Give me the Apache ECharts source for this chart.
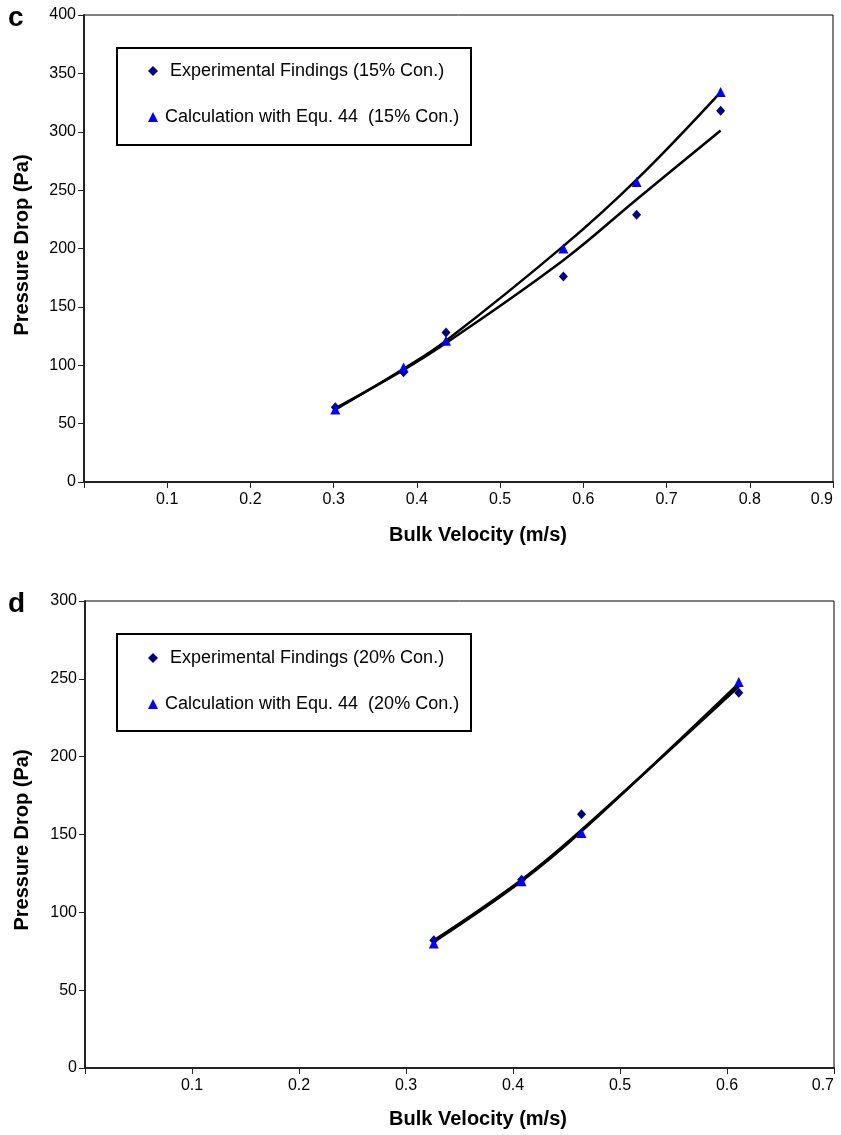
<!DOCTYPE html>
<html>
<head>
<meta charset="utf-8">
<script src="https://cdn.jsdelivr.net/npm/echarts@6/dist/echarts.min.js"></script>
<style>
html,body{margin:0;padding:0;background:#fff;}
#main{width:841px;height:1135px;}
</style>
</head>
<body>
<div id="main"></div>
<script>
// ---- Panel c (15% concentration) ----
var vel15 = [0.302, 0.384, 0.435, 0.576, 0.664, 0.765];
var exp15 = [64, 94, 128, 176, 229, 318];
var calc15 = [62, 98, 121, 200, 257, 334];
var trendExp15 = [63, 96, 119, 190, 242, 301];
var trendCalc15 = [62, 97, 121, 202, 259, 334];

// ---- Panel d (20% concentration) ----
var vel20 = [0.326, 0.408, 0.464, 0.611];
var exp20 = [82, 121, 163, 241];
var calc20 = [80, 120, 151, 248];
var trendExp20 = [82, 121, 153, 245];
var trendCalc20 = [81, 120, 152, 247];

var xTicks15 = ['0.1','0.2','0.3','0.4','0.5','0.6','0.7','0.8','0.9'];
var xTicks20 = ['0.1','0.2','0.3','0.4','0.5','0.6','0.7'];

var names = {
  exp15: 'Experimental Findings (15% Con.)',
  calc15: 'Calculation with Equ. 44  (15% Con.)',
  exp20: 'Experimental Findings (20% Con.)',
  calc20: 'Calculation with Equ. 44  (20% Con.)'
};

function pairs(xs, ys){ return xs.map(function(x,i){ return [x, ys[i]]; }); }

var FONT = "'Liberation Sans', Arial, sans-serif";
var DIAMOND = '#000080';
var TRI = '#0000FF';

function xAxisCfg(gridIndex, max){
  return {
    type:'value', gridIndex:gridIndex, min:0, max:max, interval:0.1,
    axisLine:{show:true, onZero:false, lineStyle:{color:'#222', width:2}},
    axisTick:{show:true, length:6, lineStyle:{color:'#222', width:1}},
    splitLine:{show:false},
    axisLabel:{
      color:'#000', fontSize:16, fontFamily:FONT, margin:10, showMaxLabel:true, alignMaxLabel:'right',
      formatter:function(v){
        var s = Math.round(v*10)/10;
        if (s === 0) return '';
        return s.toFixed(1);
      }
    }
  };
}
function yAxisCfg(gridIndex, max){
  return {
    type:'value', gridIndex:gridIndex, min:0, max:max, interval:50,
    axisLine:{show:true, onZero:false, lineStyle:{color:'#222', width:2}},
    axisTick:{show:true, length:6, lineStyle:{color:'#222', width:1}},
    splitLine:{show:false},
    axisLabel:{color:'#000', fontSize:16, fontFamily:FONT, margin:8}
  };
}

function legendCfg(n1, n2, top){
  return {
    data:[
      {name:n1, icon:'diamond', textStyle:{padding:[0,0,0,7]}},
      {name:n2, icon:'triangle', textStyle:{padding:[0,0,0,2]}}
    ],
    orient:'vertical', left:148, top:top, itemWidth:10, itemHeight:10, itemGap:26,
    padding:0,
    textStyle:{color:'#000', fontSize:18, fontFamily:FONT, lineHeight:20}
  };
}

var chart = echarts.init(document.getElementById('main'));
chart.setOption({
  backgroundColor:'#fff',
  animation:false,
  grid:[
    {left:84, top:15, width:749, height:467, show:true, borderColor:'#000', borderWidth:1, backgroundColor:'transparent', containLabel:false, outerBoundsMode:'none'},
    {left:85, top:601, width:749, height:467, show:true, borderColor:'#000', borderWidth:1, backgroundColor:'transparent', containLabel:false, outerBoundsMode:'none'}
  ],
  xAxis:[xAxisCfg(0, 0.9), xAxisCfg(1, 0.7)],
  yAxis:[yAxisCfg(0, 400), yAxisCfg(1, 300)],
  legend:[
    legendCfg(names.exp15, names.calc15, 61),
    legendCfg(names.exp20, names.calc20, 648)
  ],
  series:[
    {type:'line', name:'trendExp15', xAxisIndex:0, yAxisIndex:0, data:pairs(vel15, trendExp15),
      smooth:0.4, showSymbol:false, lineStyle:{color:'#000', width:2.5}, z:2},
    {type:'line', name:'trendCalc15', xAxisIndex:0, yAxisIndex:0, data:pairs(vel15, trendCalc15),
      smooth:0.4, showSymbol:false, lineStyle:{color:'#000', width:2.5}, z:2},
    {type:'scatter', name:names.exp15, xAxisIndex:0, yAxisIndex:0, data:pairs(vel15, exp15),
      symbol:'diamond', symbolSize:[9,10], itemStyle:{color:DIAMOND, opacity:1}, z:3},
    {type:'scatter', name:names.calc15, xAxisIndex:0, yAxisIndex:0, data:pairs(vel15, calc15),
      symbol:'triangle', symbolSize:[10,10], itemStyle:{color:TRI, opacity:1}, z:3},

    {type:'line', name:'trendExp20', xAxisIndex:1, yAxisIndex:1, data:pairs(vel20, trendExp20),
      smooth:0.4, showSymbol:false, lineStyle:{color:'#000', width:2.5}, z:2},
    {type:'line', name:'trendCalc20', xAxisIndex:1, yAxisIndex:1, data:pairs(vel20, trendCalc20),
      smooth:0.4, showSymbol:false, lineStyle:{color:'#000', width:2.5}, z:2},
    {type:'scatter', name:names.exp20, xAxisIndex:1, yAxisIndex:1, data:pairs(vel20, exp20),
      symbol:'diamond', symbolSize:[9,10], itemStyle:{color:DIAMOND, opacity:1}, z:3},
    {type:'scatter', name:names.calc20, xAxisIndex:1, yAxisIndex:1, data:pairs(vel20, calc20),
      symbol:'triangle', symbolSize:[10,10], itemStyle:{color:TRI, opacity:1}, z:3}
  ],
  graphic:[
    {type:'rect', left:116, top:47, shape:{width:354, height:97}, style:{fill:'transparent', stroke:'#000', lineWidth:2}, z:1},
    {type:'rect', left:116, top:633, shape:{width:354, height:97}, style:{fill:'transparent', stroke:'#000', lineWidth:2}, z:1},
    {type:'text', left:8, top:4, style:{text:'c', font:"bold 28px 'Liberation Sans', Arial", fill:'#000'}},
    {type:'text', left:8, top:590, style:{text:'d', font:"bold 28px 'Liberation Sans', Arial", fill:'#000'}},
    {type:'text', x:478, y:535, style:{text:'Bulk Velocity (m/s)', font:"bold 20px 'Liberation Sans', Arial", fill:'#000', align:'center', verticalAlign:'middle'}},
    {type:'text', x:478, y:1119, style:{text:'Bulk Velocity (m/s)', font:"bold 20px 'Liberation Sans', Arial", fill:'#000', align:'center', verticalAlign:'middle'}},
    {type:'text', x:22, y:245, rotation:Math.PI/2, style:{text:'Pressure Drop (Pa)', font:"bold 20px 'Liberation Sans', Arial", fill:'#000', align:'center', verticalAlign:'middle'}},
    {type:'text', x:22, y:840, rotation:Math.PI/2, style:{text:'Pressure Drop (Pa)', font:"bold 20px 'Liberation Sans', Arial", fill:'#000', align:'center', verticalAlign:'middle'}}
  ]
});
</script>
</body>
</html>
